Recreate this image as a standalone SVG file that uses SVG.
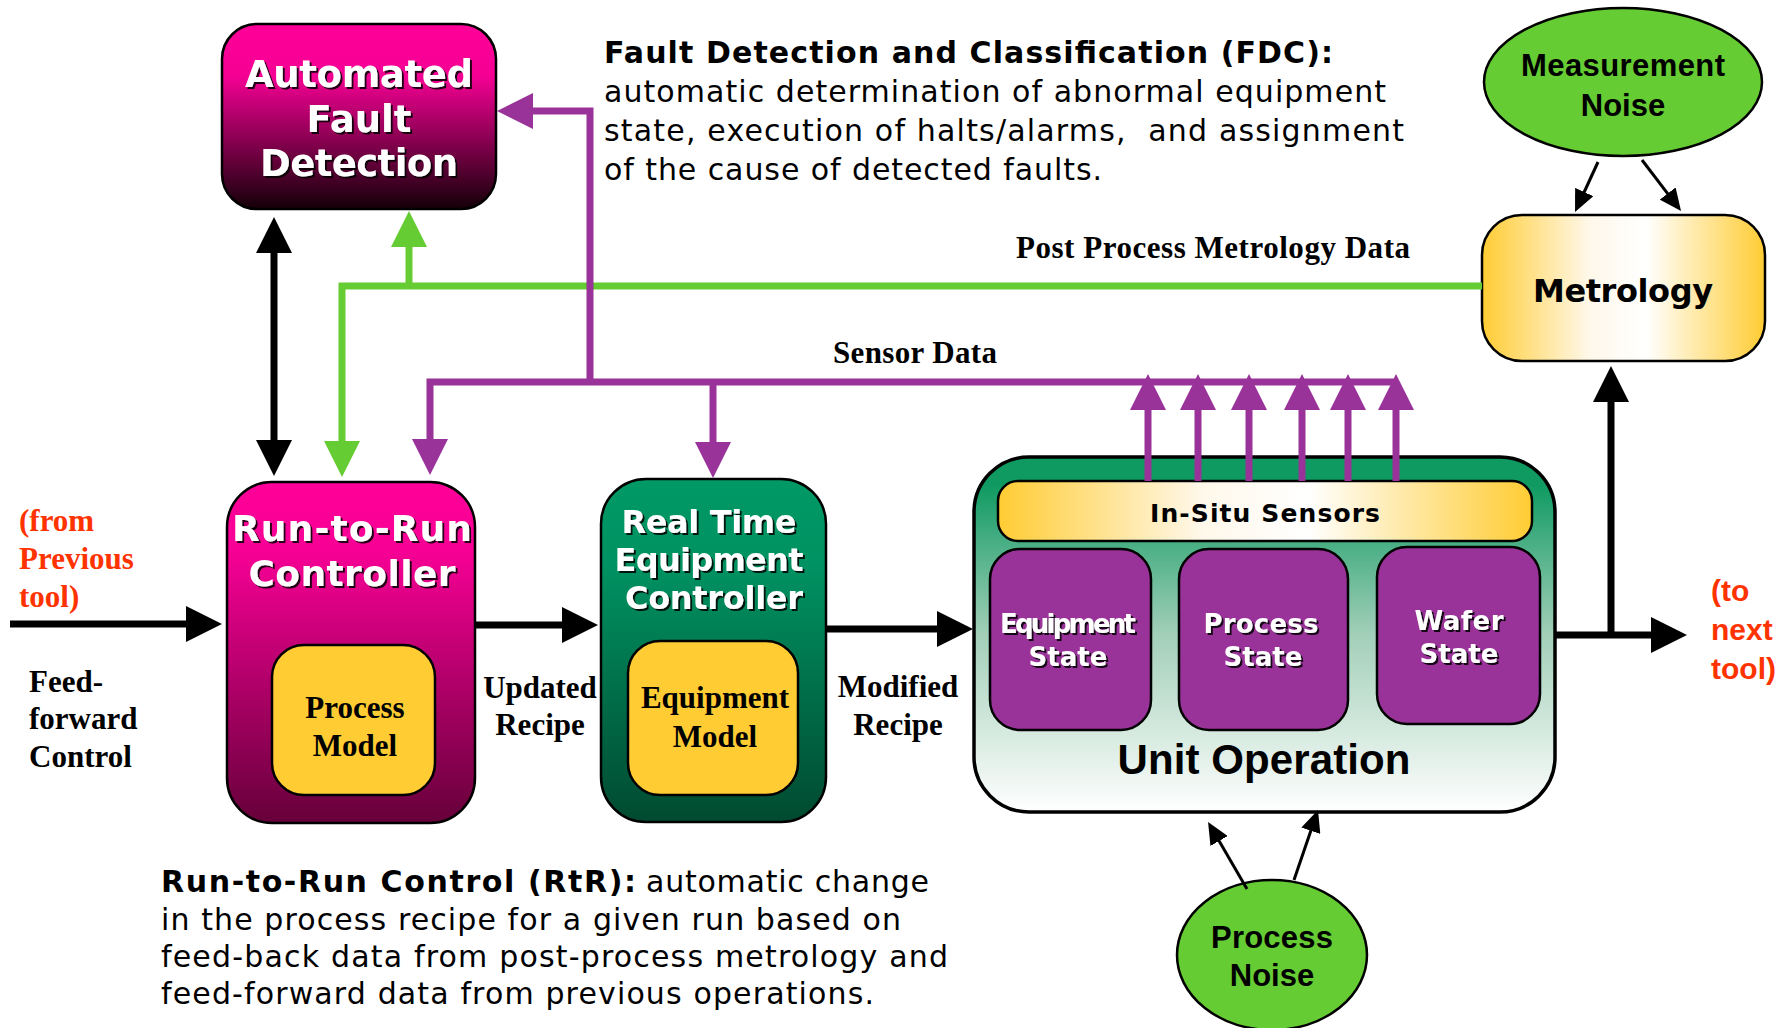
<svg xmlns="http://www.w3.org/2000/svg" width="1791" height="1028" viewBox="0 0 1791 1028">
<defs>
  <linearGradient id="gAFD" x1="0" y1="0" x2="0" y2="1">
    <stop offset="0" stop-color="#ff0099"/>
    <stop offset="0.28" stop-color="#f50094"/>
    <stop offset="1" stop-color="#140008"/>
  </linearGradient>
  <linearGradient id="gRtR" x1="0" y1="0" x2="0" y2="1">
    <stop offset="0" stop-color="#ff0099"/>
    <stop offset="0.2" stop-color="#f70095"/>
    <stop offset="1" stop-color="#66003a"/>
  </linearGradient>
  <linearGradient id="gRTEC" x1="0" y1="0" x2="0" y2="1">
    <stop offset="0" stop-color="#009966"/>
    <stop offset="0.25" stop-color="#009262"/>
    <stop offset="1" stop-color="#004a30"/>
  </linearGradient>
  <linearGradient id="gUO" x1="0" y1="0" x2="0" y2="1">
    <stop offset="0" stop-color="#0e9a60"/>
    <stop offset="0.08" stop-color="#109a62"/>
    <stop offset="0.5" stop-color="#a2cfb8"/>
    <stop offset="1" stop-color="#ffffff"/>
  </linearGradient>
  <linearGradient id="gYel" x1="0" y1="0" x2="1" y2="0">
    <stop offset="0" stop-color="#ffcc33"/>
    <stop offset="0.38" stop-color="#fff8ea"/>
    <stop offset="0.58" stop-color="#ffffff"/>
    <stop offset="1" stop-color="#ffcc33"/>
  </linearGradient>
  <filter id="shadow" x="-10%" y="-20%" width="130%" height="150%">
    <feDropShadow dx="2" dy="2" stdDeviation="0.6" flood-color="#000000" flood-opacity="0.85"/>
  </filter>
  <marker id="aBlack" viewBox="0 0 36 36" markerWidth="36" markerHeight="36" refX="8" refY="18" orient="auto-start-reverse" markerUnits="userSpaceOnUse">
    <path d="M0,0 L36,18 L0,36 Z" fill="#000000"/>
  </marker>
  <marker id="aPurple" viewBox="0 0 36 36" markerWidth="36" markerHeight="36" refX="8" refY="18" orient="auto" markerUnits="userSpaceOnUse">
    <path d="M0,0 L36,18 L0,36 Z" fill="#993399"/>
  </marker>
  <marker id="aGreen" viewBox="0 0 36 36" markerWidth="36" markerHeight="36" refX="8" refY="18" orient="auto" markerUnits="userSpaceOnUse">
    <path d="M0,0 L36,18 L0,36 Z" fill="#66cc33"/>
  </marker>
  <marker id="aSmall" viewBox="0 0 22 20" markerWidth="22" markerHeight="20" refX="6" refY="10" orient="auto" markerUnits="userSpaceOnUse">
    <path d="M0,0 L22,10 L0,20 Z" fill="#000000"/>
  </marker>
</defs>
<style>
  .box { stroke: #000000; stroke-width: 2.5; }
  .wt { font-family: "DejaVu Sans", Verdana, sans-serif; font-weight: bold; fill: #ffffff; text-anchor: middle; filter: url(#shadow); }
  .bt { font-family: "DejaVu Sans", Verdana, sans-serif; font-weight: bold; fill: #000000; text-anchor: middle; }
  .at { font-family: "Liberation Sans", Arial, sans-serif; font-weight: bold; fill: #000000; text-anchor: middle; }
  .sr { font-family: "Liberation Serif", "Times New Roman", serif; font-weight: bold; font-size: 31px; fill: #000000; }
  .mid { text-anchor: middle; }
  .orange { fill: #ff3300; }
  .desc { font-family: "DejaVu Sans", Verdana, sans-serif; font-size: 30px; fill: #000000; }
  .descb { font-family: "DejaVu Sans", Verdana, sans-serif; font-size: 30px; font-weight: bold; fill: #000000; }
  .orng { font-family: "Liberation Sans", Arial, sans-serif; font-weight: bold; font-size: 30px; fill: #ff3300; }
  .lk { fill: none; stroke: #000000; stroke-width: 7; }
  .lp { fill: none; stroke: #993399; stroke-width: 7; }
  .lg { fill: none; stroke: #66cc33; stroke-width: 7; }
  .ln { fill: none; stroke: #000000; stroke-width: 3; }
</style>

<g id="afd">
  <rect class="box" x="222" y="24" width="274" height="185" rx="35" fill="url(#gAFD)"/>
  <text class="wt" font-size="37" x="359" y="87" textLength="228">Automated</text>
  <text class="wt" font-size="37" x="359" y="132">Fault</text>
  <text class="wt" font-size="37" x="359" y="176" textLength="198">Detection</text>
</g>

<g id="fdc-text">
  <text class="descb" x="604" y="63" textLength="729">Fault Detection and Classification (FDC):</text>
  <text class="desc" x="604" y="102" textLength="782">automatic determination of abnormal equipment</text>
  <text class="desc" x="604" y="141" textLength="800" xml:space="preserve">state, execution of halts/alarms,  and assignment</text>
  <text class="desc" x="604" y="180" textLength="498">of the cause of detected faults.</text>
</g>

<g id="measurement-noise">
  <ellipse class="box" cx="1623" cy="82" rx="139" ry="74" fill="#66cc33"/>
  <text class="at" font-size="31" x="1623" y="76" textLength="204">Measurement</text>
  <text class="at" font-size="31" x="1623" y="116">Noise</text>
</g>

<g id="metrology">
  <rect class="box" x="1482" y="215" width="283" height="146" rx="40" fill="url(#gYel)"/>
  <text class="bt" font-size="32" x="1623" y="302" textLength="180">Metrology</text>
</g>

<g id="rtr">
  <rect class="box" x="227" y="482" width="248" height="341" rx="45" fill="url(#gRtR)"/>
  <text class="wt" font-size="36" x="352" y="541" textLength="240">Run-to-Run</text>
  <text class="wt" font-size="36" x="352" y="586" textLength="207">Controller</text>
  <rect class="box" x="272" y="645" width="163" height="150" rx="32" fill="#ffcc33"/>
  <text class="sr mid" x="355" y="718">Process</text>
  <text class="sr mid" x="355" y="756">Model</text>
</g>

<g id="rtec">
  <rect class="box" x="601" y="479" width="225" height="343" rx="45" fill="url(#gRTEC)"/>
  <text class="wt" font-size="32" x="709" y="533" textLength="175">Real Time</text>
  <text class="wt" font-size="32" x="709" y="571" textLength="189">Equipment</text>
  <text class="wt" font-size="32" x="714" y="609" textLength="178">Controller</text>
  <rect class="box" x="628" y="641" width="170" height="154" rx="32" fill="#ffcc33"/>
  <text class="sr mid" x="715" y="708">Equipment</text>
  <text class="sr mid" x="715" y="747">Model</text>
</g>

<g id="unit-operation">
  <rect x="974" y="457" width="581" height="355" rx="55" fill="url(#gUO)" stroke="#000000" stroke-width="3.5"/>
  <rect class="box" x="998" y="481" width="534" height="60" rx="20" fill="url(#gYel)"/>
  <text class="bt" font-size="25" x="1265" y="522" textLength="230">In-Situ Sensors</text>
  <g id="equipment-state">
    <rect class="box" x="990" y="549" width="161" height="181" rx="30" fill="#993399"/>
    <text class="wt" font-size="26" x="1068" y="633" textLength="136">Equipment</text>
    <text class="wt" font-size="26" x="1068" y="666">State</text>
  </g>
  <g id="process-state">
    <rect class="box" x="1179" y="549" width="169" height="181" rx="30" fill="#993399"/>
    <text class="wt" font-size="26" x="1261" y="633" textLength="115">Process</text>
    <text class="wt" font-size="26" x="1263" y="666">State</text>
  </g>
  <g id="wafer-state">
    <rect class="box" x="1377" y="547" width="163" height="177" rx="30" fill="#993399"/>
    <text class="wt" font-size="26" x="1459" y="630" textLength="89">Wafer</text>
    <text class="wt" font-size="26" x="1459" y="663">State</text>
  </g>
  <text class="at" font-size="42" x="1264" y="774" textLength="293">Unit Operation</text>
</g>

<g id="process-noise">
  <ellipse class="box" cx="1272" cy="955" rx="95" ry="75" fill="#66cc33"/>
  <text class="at" font-size="31" x="1272" y="948" textLength="122">Process</text>
  <text class="at" font-size="31" x="1272" y="986">Noise</text>
</g>

<g id="labels">
  <text class="sr orange" x="19" y="531">(from</text>
  <text class="sr orange" x="19" y="569">Previous</text>
  <text class="sr orange" x="19" y="607">tool)</text>
  <text class="sr" x="29" y="692">Feed-</text>
  <text class="sr" x="29" y="729">forward</text>
  <text class="sr" x="29" y="767">Control</text>
  <text class="sr mid" x="540" y="698">Updated</text>
  <text class="sr mid" x="540" y="735">Recipe</text>
  <text class="sr mid" x="898" y="697">Modified</text>
  <text class="sr mid" x="898" y="735">Recipe</text>
  <text class="sr" x="1016" y="258" textLength="394">Post Process Metrology Data</text>
  <text class="sr" x="833" y="363" textLength="164">Sensor Data</text>
  <text class="orng" x="1711" y="601">(to</text>
  <text class="orng" x="1711" y="640">next</text>
  <text class="orng" x="1711" y="679">tool)</text>
</g>

<g id="rtr-text">
  <text class="descb" x="161" y="892" textLength="475">Run-to-Run Control (RtR):</text>
  <text class="desc" x="646" y="892" textLength="283">automatic change</text>
  <text class="desc" x="161" y="930" textLength="740">in the process recipe for a given run based on</text>
  <text class="desc" x="161" y="967" textLength="787">feed-back data from post-process metrology and</text>
  <text class="desc" x="161" y="1004" textLength="713">feed-forward data from previous operations.</text>
</g>

<g id="connectors">
  <path class="lk" d="M10,624 H194" marker-end="url(#aBlack)"/>
  <path class="lk" d="M475,625 H570" marker-end="url(#aBlack)"/>
  <path class="lk" d="M826,629 H945" marker-end="url(#aBlack)"/>
  <path class="lk" d="M1555,635 H1659" marker-end="url(#aBlack)"/>
  <path class="lk" d="M1611,635 V394" marker-end="url(#aBlack)"/>
  <path class="lk" d="M274,245 V448" marker-start="url(#aBlack)" marker-end="url(#aBlack)"/>
  <path class="lg" d="M409,286 V239" marker-end="url(#aGreen)"/>
  <path class="lg" d="M1482,286 H342 V449" marker-end="url(#aGreen)"/>
  <path class="lp" d="M590,382 V111 H525" marker-end="url(#aPurple)"/>
  <path class="lp" d="M1396,382 H430 V447" marker-end="url(#aPurple)"/>
  <path class="lp" d="M713,382 V450" marker-end="url(#aPurple)"/>
  <path class="lp" d="M1148,481 V402" marker-end="url(#aPurple)"/>
  <path class="lp" d="M1198,481 V402" marker-end="url(#aPurple)"/>
  <path class="lp" d="M1249,481 V402" marker-end="url(#aPurple)"/>
  <path class="lp" d="M1302,481 V402" marker-end="url(#aPurple)"/>
  <path class="lp" d="M1348,481 V402" marker-end="url(#aPurple)"/>
  <path class="lp" d="M1396,481 V402" marker-end="url(#aPurple)"/>
  <path class="ln" d="M1598,162 L1581.7,197.5" marker-end="url(#aSmall)"/>
  <path class="ln" d="M1642,160 L1671.3,198.3" marker-end="url(#aSmall)"/>
  <path class="ln" d="M1247,889 L1216.1,835.8" marker-end="url(#aSmall)"/>
  <path class="ln" d="M1294,880 L1312.8,825.1" marker-end="url(#aSmall)"/>
</g>
</svg>
